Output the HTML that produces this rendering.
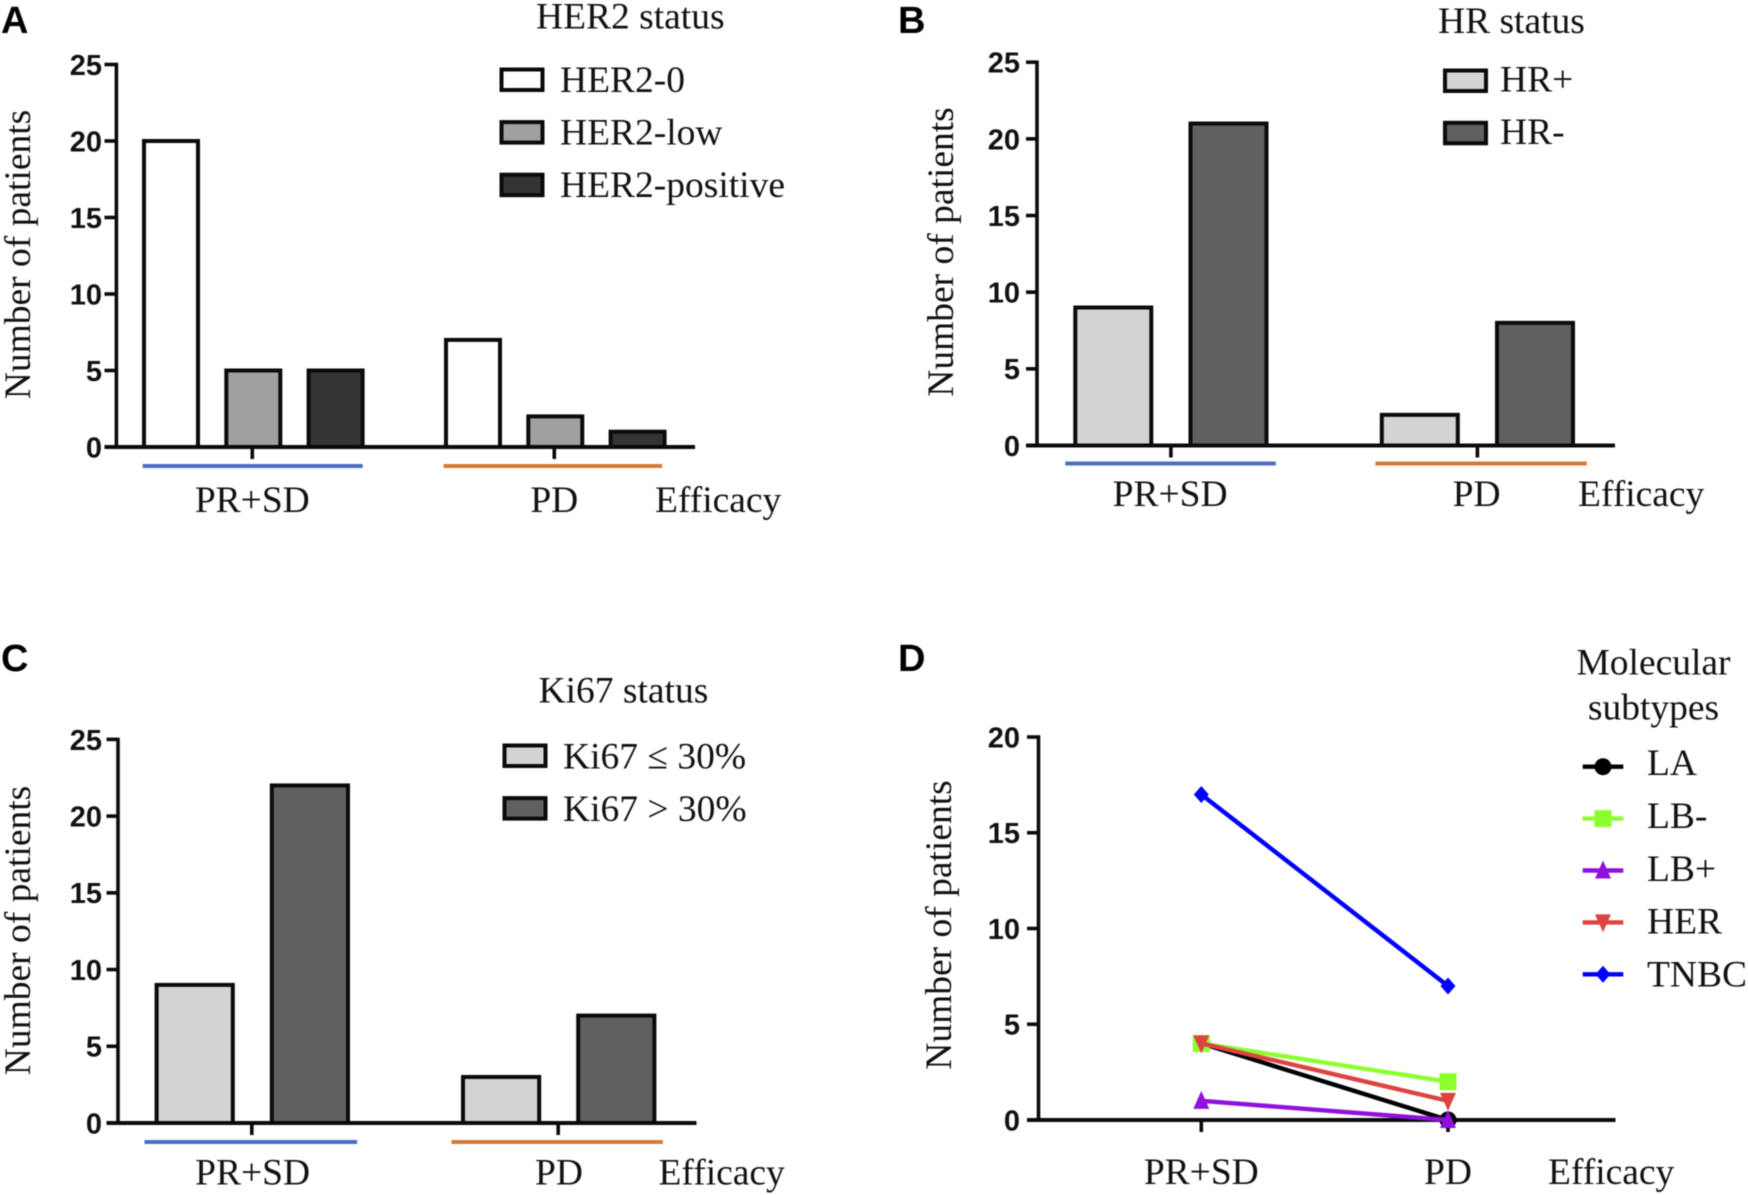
<!DOCTYPE html>
<html lang="en">
<head>
<meta charset="utf-8">
<title>Treatment efficacy by patient status</title>
<style>
html,body{margin:0;padding:0;background:#fff;}
#figure{display:block;width:1748px;height:1195px;filter:blur(0.4px);}
.serif{font-family:"Liberation Serif",serif;font-size:37.5px;fill:#111;}
.letter{font-family:"Liberation Sans",sans-serif;font-weight:700;font-size:38px;fill:#000;}
.tick{font-family:"Liberation Sans",sans-serif;font-weight:700;font-size:29px;fill:#111;text-anchor:end;}
.mid{text-anchor:middle;}
</style>
</head>
<body>
<svg id="figure" xmlns="http://www.w3.org/2000/svg" width="1748" height="1195" viewBox="0 0 1748 1195">
  <rect x="0" y="0" width="1748" height="1195" fill="#fff"/>

  <g id="panel-a">
    <text class="letter" x="1" y="33">A</text>
    <text class="serif" x="536" y="28.5">HER2 status</text>
    <text class="serif mid" transform="translate(30 254.5) rotate(-90)">Number of patients</text>
    <rect x="142.7" y="464" width="220" height="4" fill="#4a6fc4"/>
    <rect x="443.6" y="464" width="218.5" height="4" fill="#d67a38"/>
    <text class="serif" x="655" y="512">Efficacy</text>
  </g>

  <g id="panel-b">
    <text class="letter" x="898" y="33">B</text>
    <text class="serif" x="1438" y="33">HR status</text>
    <text class="serif mid" transform="translate(953 252) rotate(-90)">Number of patients</text>
    <rect x="1065.3" y="461.5" width="210.5" height="4" fill="#4a6fc4"/>
    <rect x="1375.4" y="461.5" width="211.4" height="4" fill="#d67a38"/>
    <text class="serif" x="1578" y="506">Efficacy</text>
  </g>

  <g id="panel-c">
    <text class="letter" x="1" y="671">C</text>
    <text class="serif" x="538.5" y="702.5">Ki67 status</text>
    <text class="serif mid" transform="translate(30 930.5) rotate(-90)">Number of patients</text>
    <rect x="144.5" y="1140" width="212.6" height="4" fill="#4a6fc4"/>
    <rect x="451.5" y="1140" width="211.4" height="4" fill="#d67a38"/>
    <text class="serif" x="658.5" y="1184.5">Efficacy</text>
  </g>

  <g id="panel-d">
    <text class="letter" x="898" y="671">D</text>
    <text class="serif mid" x="1653.5" y="674.5">Molecular</text>
    <text class="serif mid" x="1653.5" y="719.5">subtypes</text>
    <text class="serif mid" transform="translate(951 925) rotate(-90)">Number of patients</text>
    <text class="serif" x="1548" y="1184">Efficacy</text>
  </g>
</svg>

<script>
// ---- chart data ----
const categories = ['PR+SD', 'PD'];
const barTickLabels = [0, 5, 10, 15, 20, 25];
const lineTickLabels = [0, 5, 10, 15, 20];

const her2Names = ['HER2-0', 'HER2-low', 'HER2-positive'];
const her2Zero = [20, 7];
const her2Low = [5, 2];
const her2Positive = [5, 1];

const hrNames = ['HR+', 'HR-'];
const hrPlus = [9, 2];
const hrMinus = [21, 8];

const ki67Names = ['Ki67 \u2264 30%', 'Ki67 > 30%'];
const ki67Low = [9, 3];
const ki67High = [22, 7];

const subtypeNames = ['LA', 'LB-', 'LB+', 'HER', 'TNBC'];
const laValues = [4, 0];
const lbMinusValues = [4, 2];
const lbPlusValues = [1, 0];
const herValues = [4, 1];
const tnbcValues = [17, 7];

// ---- drawing ----
const NS = 'http://www.w3.org/2000/svg';
const INK = '#0a0a0a';
const STROKE = 4;

function make(tag, attrs, parent) {
  const node = document.createElementNS(NS, tag);
  for (const key in attrs) node.setAttribute(key, attrs[key]);
  parent.appendChild(node);
  return node;
}

function linearAxis(y0, yTop, maxValue) {
  return function (v) { return y0 - (y0 - yTop) * v / maxValue; };
}

function drawAxes(parent, layout, ticks, yScale, tickXs, labelBaseline, labelShift) {
  const yAxis = make('line', {x1: layout.axisX, x2: layout.axisX, y1: yScale(ticks[ticks.length - 1]) - 1.7, y2: layout.y0, stroke: INK, 'stroke-width': 3.6}, parent);
  
  
  const xAxis = make('line', {x1: layout.axisStart, x2: layout.axisEnd, y1: layout.y0, y2: layout.y0, stroke: INK, 'stroke-width': 4}, parent);
  
  
  ticks.forEach(function (t) {
    const mark = make('line', {x1: layout.axisStart, x2: layout.axisX, y1: yScale(t), y2: yScale(t), stroke: INK, 'stroke-width': 3.6}, parent);
    
    
    const label = make('text', {class: 'tick', x: layout.tickRight, y: yScale(t) + 10.4}, parent);
    label.textContent = t;
    
    
  });
  categories.forEach(function (c, i) {
    const mark = make('line', {x1: tickXs[i], x2: tickXs[i], y1: layout.y0, y2: layout.y0 + 12, stroke: INK, 'stroke-width': 3.6}, parent);
    
    
    const label = make('text', {class: 'serif mid', x: tickXs[i] + labelShift, y: labelBaseline}, parent);
    label.textContent = c;
    
    
  });
}

function drawBarPanel(parentId, layout, names, seriesList, fills) {
  const parent = document.getElementById(parentId);
  const yScale = linearAxis(layout.y0, layout.yTop, 25);
  const tickXs = [];
  categories.forEach(function (c, g) {
    const left = layout.firstBar + g * layout.groupPitch;
    tickXs.push(left + ((seriesList.length - 1) * layout.barPitch + layout.barWidth) / 2 + layout.tickShift);
    seriesList.forEach(function (values, s) {
      const x = left + s * layout.barPitch;
      const top = yScale(values[g]);
      const bar = make('rect', {x: x + STROKE / 2, y: top, width: layout.barWidth - STROKE, height: layout.y0 - top, fill: fills[s], stroke: INK, 'stroke-width': STROKE}, parent);
      
      
    });
  });
  drawAxes(parent, layout, barTickLabels, yScale, tickXs, layout.labelBaseline, layout.labelShift);
  names.forEach(function (name, s) {
    const swatch = make('rect', {x: layout.legendX + STROKE / 2, y: layout.legendY + s * layout.legendPitch + STROKE / 2, width: layout.legendW - STROKE, height: layout.legendH - STROKE, fill: fills[s], stroke: INK, 'stroke-width': STROKE}, parent);
    
    
    const label = make('text', {class: 'serif', x: layout.legendTextX, y: layout.legendBase + s * layout.legendPitch}, parent);
    label.textContent = name;
    
    
  });
}

function drawMarker(parent, shape, cx, cy, color, size) {
  const r = size / 2;
  let node;
  if (shape === 'circle') {
    node = make('circle', {cx: cx, cy: cy, r: r, fill: color}, parent);
  } else if (shape === 'square') {
    node = make('rect', {x: cx - r, y: cy - r, width: size, height: size, fill: color}, parent);
  } else if (shape === 'up') {
    node = make('polygon', {points: (cx - r) + ',' + (cy + r) + ' ' + (cx + r) + ',' + (cy + r) + ' ' + cx + ',' + (cy - r - 2), fill: color}, parent);
  } else if (shape === 'down') {
    node = make('polygon', {points: (cx - r) + ',' + (cy - r) + ' ' + (cx + r) + ',' + (cy - r) + ' ' + cx + ',' + (cy + r + 2), fill: color}, parent);
  } else {
    node = make('polygon', {points: cx + ',' + (cy - r - 1) + ' ' + (cx + r) + ',' + cy + ' ' + cx + ',' + (cy + r + 1) + ' ' + (cx - r) + ',' + cy, fill: color}, parent);
  }
  return node;
}

// Panel A
drawBarPanel('panel-a', {
  firstBar: 142, barWidth: 58, barPitch: 82.3, groupPitch: 302, tickShift: -1, labelShift: 0,
  y0: 447, yTop: 64.5, axisX: 116.4, axisStart: 104.5, axisEnd: 695, tickRight: 102, labelBaseline: 512,
  legendX: 499.5, legendY: 67.5, legendW: 45, legendH: 24.5, legendPitch: 52.6, legendTextX: 560, legendBase: 92
}, her2Names, [her2Zero, her2Low, her2Positive], ['#ffffff', '#a0a0a0', '#343434']);

// Panel B
drawBarPanel('panel-b', {
  firstBar: 1073.3, barWidth: 80, barPitch: 115.2, groupPitch: 306.5, tickShift: 0, labelShift: -0.8,
  y0: 445.5, yTop: 62.2, axisX: 1037, axisStart: 1026, axisEnd: 1615, tickRight: 1020, labelBaseline: 506,
  legendX: 1443, legendY: 68.5, legendW: 45, legendH: 24.5, legendPitch: 52.3, legendTextX: 1500, legendBase: 91.5
}, hrNames, [hrPlus, hrMinus], ['#d3d3d3', '#606060']);

// Panel C
drawBarPanel('panel-c', {
  firstBar: 154.6, barWidth: 80.2, barPitch: 115.2, groupPitch: 306.4, tickShift: -0.5, labelShift: 0.8,
  y0: 1123, yTop: 739.4, axisX: 118, axisStart: 106.5, axisEnd: 696.5, tickRight: 102, labelBaseline: 1184.5,
  legendX: 502.5, legendY: 743.5, legendW: 45, legendH: 24.5, legendPitch: 52.6, legendTextX: 563, legendBase: 768.5
}, ki67Names, [ki67Low, ki67High], ['#d3d3d3', '#606060']);

// Panel D
(function () {
  const parent = document.getElementById('panel-d');
  const layout = {y0: 1120, yTop: 737, axisX: 1038.5, axisStart: 1027, axisEnd: 1615.5, tickRight: 1020};
  const yScale = linearAxis(layout.y0, layout.yTop, 20);
  const xPositions = [1201.3, 1448];
  drawAxes(parent, layout, lineTickLabels, yScale, xPositions, 1184, 0);

  const seriesList = [laValues, lbMinusValues, lbPlusValues, herValues, tnbcValues];
  const colors = ['#000000', '#8cff2e', '#9010dc', '#dc4442', '#0000ff'];
  const shapes = ['circle', 'square', 'up', 'down', 'diamond'];
  const sizes = [17, 17, 16, 16, 15];

  seriesList.forEach(function (values, s) {
    const name = subtypeNames[s];
    const line = make('polyline', {points: values.map(function (v, i) { return xPositions[i] + ',' + yScale(v); }).join(' '), fill: 'none', stroke: colors[s], 'stroke-width': 4.4}, parent);
    
    
    values.forEach(function (v, i) {
      const point = drawMarker(parent, shapes[s], xPositions[i], yScale(v), colors[s], sizes[s]);
      
      
    });
    const rowY = 766.7 + s * 51.9;
    const sample = make('line', {x1: 1582.7, x2: 1623.3, y1: rowY, y2: rowY, stroke: colors[s], 'stroke-width': 4.4}, parent);
    
    
    const glyph = drawMarker(parent, shapes[s], 1603, rowY, colors[s], sizes[s]);
    
    
    const label = make('text', {class: 'serif', x: 1647, y: 775 + s * 52.9}, parent);
    label.textContent = name;
    
    
  });
})();
</script>
</body>
</html>
